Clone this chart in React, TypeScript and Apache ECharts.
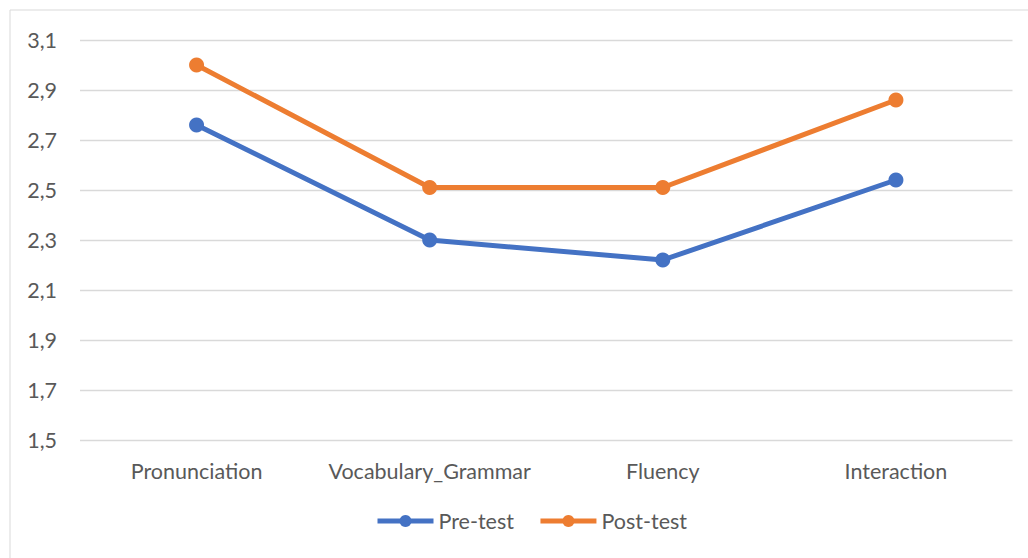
import React, { useEffect, useRef } from "react";
import * as echarts from "echarts";

const categories = ["Pronunciation", "Vocabulary_Grammar", "Fluency", "Interaction"];
const preTest = [2.76, 2.3, 2.22, 2.54];
const postTest = [3.0, 2.51, 2.51, 2.86];
const yMin = 1.5;
const yMax = 3.1;
const yInterval = 0.2;

const FONT = "Lato";
const TEXT = "#595959";
const FS = 21.5;

export default function App() {
  const ref = useRef<HTMLDivElement>(null);
  useEffect(() => {
    if (!ref.current) return;
    const chart = echarts.init(ref.current, null, { renderer: "svg" });
    chart.setOption({
      animation: false,
      backgroundColor: "#ffffff",
      textStyle: { fontFamily: FONT },
      graphic: [
        {
          type: "rect",
          shape: { x: 10, y: 10, width: 1030, height: 560 },
          style: { fill: "none", stroke: "#d9d9d9", lineWidth: 1 },
          silent: true,
        },
      ],
      grid: { left: 80, right: 15.5, top: 40, bottom: 118, containLabel: false },
      legend: {
        bottom: 21,
        left: 370,
        itemWidth: 56,
        itemHeight: 15,
        itemGap: 24,
        lineStyle: { width: 5 },
        textStyle: { color: TEXT, fontSize: FS, fontFamily: FONT },
        data: ["Pre-test", "Post-test"],
      },
      xAxis: {
        type: "category",
        data: categories,
        boundaryGap: true,
        axisLine: { show: false },
        axisTick: { show: false },
        axisLabel: { color: TEXT, fontSize: FS, fontFamily: FONT, margin: 20, interval: 0 },
      },
      yAxis: {
        type: "value",
        min: yMin,
        max: yMax,
        interval: yInterval,
        axisLine: { show: false },
        axisTick: { show: false },
        axisLabel: {
          color: TEXT,
          fontSize: FS,
          fontFamily: FONT,
          margin: 23,
          formatter: (v: number) => v.toFixed(1).replace(".", ","),
        },
        splitLine: { lineStyle: { color: "#d9d9d9", width: 1.3 } },
      },
      series: [
        {
          name: "Pre-test",
          type: "line",
          data: preTest,
          symbol: "circle",
          symbolSize: 15,
          itemStyle: { color: "#4472C4" },
          lineStyle: { color: "#4472C4", width: 5 },
        },
        {
          name: "Post-test",
          type: "line",
          data: postTest,
          symbol: "circle",
          symbolSize: 15,
          itemStyle: { color: "#ED7D31" },
          lineStyle: { color: "#ED7D31", width: 5 },
        },
      ],
    });
    return () => chart.dispose();
  }, []);
  return (
    <div
      ref={ref}
      style={{ position: "fixed", left: 0, top: 0, width: 1028, height: 558 }}
    />
  );
}
